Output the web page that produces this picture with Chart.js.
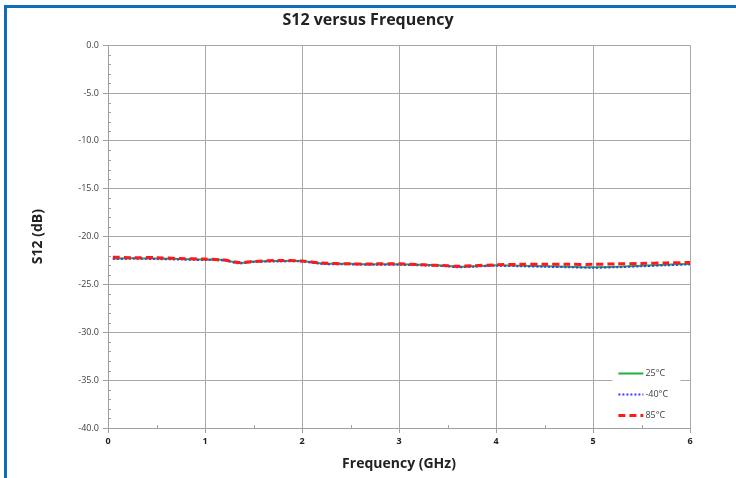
<!DOCTYPE html>
<html>
<head>
<meta charset="utf-8">
<script src="https://cdn.jsdelivr.net/npm/chart.js@4.4.1/dist/chart.umd.min.js"></script>
<style>
  body { margin: 0; background: #fff; }
  #chart { display: block; }
</style>
</head>
<body>
<canvas id="chart" width="736" height="478"></canvas>
<script>
// values
var freqs = [0.05, 0.25, 0.5, 0.75, 1.0, 1.2, 1.35, 1.5, 1.75, 2.0, 2.2, 2.5, 2.75, 3.0, 3.25, 3.5, 3.6, 3.75, 4.0, 4.25, 4.5, 4.75, 5.0, 5.25, 5.5, 5.75, 6.0];
var s12_25 = [-22.3, -22.25, -22.3, -22.35, -22.4, -22.45, -22.75, -22.6, -22.55, -22.55, -22.8, -22.85, -22.9, -22.9, -22.95, -23.05, -23.15, -23.1, -23.0, -23.05, -23.1, -23.15, -23.2, -23.15, -23.05, -22.95, -22.85];
var s12_m40 = [-22.35, -22.3, -22.35, -22.4, -22.45, -22.5, -22.8, -22.65, -22.6, -22.6, -22.85, -22.9, -22.95, -22.95, -23.0, -23.1, -23.2, -23.15, -23.05, -23.1, -23.15, -23.2, -23.25, -23.2, -23.1, -23.0, -22.9];
var s12_85 = [-22.15, -22.2, -22.2, -22.3, -22.35, -22.45, -22.7, -22.6, -22.5, -22.55, -22.75, -22.85, -22.85, -22.85, -22.95, -23.05, -23.1, -23.05, -22.95, -22.9, -22.9, -22.9, -22.9, -22.85, -22.8, -22.75, -22.7];
var seriesNames = ['25°C', '-40°C', '85°C'];

function pts(ys) {
  return freqs.map(function (f, i) { return { x: f, y: ys[i] }; });
}

var fontFam = "'Open Sans', 'Liberation Sans', sans-serif";

// blue frame + white background
var framePlugin = {
  id: 'frame',
  beforeDraw: function (chart) {
    var ctx = chart.ctx;
    ctx.save();
    ctx.fillStyle = '#ffffff';
    ctx.fillRect(0, 0, chart.width, chart.height);
    ctx.fillStyle = '#0d6fb8';
    ctx.fillRect(4, 5, chart.width - 4, 3);
    ctx.fillRect(4, 5, 3, chart.height - 5);
    ctx.restore();
  }
};

// minor ticks inside the axes
var minorTicks = {
  id: 'minorTicks',
  afterDraw: function (chart) {
    var ctx = chart.ctx, xs = chart.scales.x, ys = chart.scales.y;
    ctx.save();
    ctx.strokeStyle = '#a0a0a0';
    ctx.lineWidth = 1;
    ctx.beginPath();
    for (var v = -39; v < 0; v++) {
      if (v % 5 === 0) continue;
      var py = Math.round(ys.getPixelForValue(v)) + 0.5;
      ctx.moveTo(xs.left, py);
      ctx.lineTo(xs.left + 3, py);
    }
    for (var f = 0.5; f < 6; f += 1) {
      var px = Math.round(xs.getPixelForValue(f)) + 0.5;
      ctx.moveTo(px, ys.bottom);
      ctx.lineTo(px, ys.bottom - 3);
    }
    ctx.stroke();
    ctx.restore();
  }
};

// legend box inside the plot, lower right
var boxLegend = {
  id: 'boxLegend',
  afterDraw: function (chart) {
    var ctx = chart.ctx, xs = chart.scales.x, ys = chart.scales.y;
    var x0 = xs.getPixelForValue(5.2), y0 = ys.getPixelForValue(-33.1);
    ctx.save();
    ctx.fillStyle = '#ffffff';
    ctx.fillRect(x0, y0, 68, 62);
    chart.data.datasets.forEach(function (ds, i) {
      var yy = Math.round(y0 + 11 + i * 21) + 0.5;
      ctx.strokeStyle = ds.borderColor;
      ctx.lineWidth = ds.borderWidth;
      ctx.setLineDash(ds.borderDash || []);
      ctx.beginPath();
      ctx.moveTo(x0 + 6, yy);
      ctx.lineTo(x0 + 31, yy);
      ctx.stroke();
      ctx.setLineDash([]);
      ctx.fillStyle = '#404040';
      ctx.font = '9px ' + fontFam;
      ctx.textBaseline = 'middle';
      ctx.fillText(ds.label, x0 + 33, yy);
    });
    ctx.restore();
  }
};

new Chart(document.getElementById('chart'), {
  type: 'line',
  data: {
    datasets: [
      { label: seriesNames[0], data: pts(s12_25), borderColor: '#1fae3f', borderWidth: 2, tension: 0.3, order: 2 },
      { label: seriesNames[1], data: pts(s12_m40), borderColor: '#3a3aff', borderWidth: 2, borderDash: [2, 2], tension: 0.3, order: 1 },
      { label: seriesNames[2], data: pts(s12_85), borderColor: '#ff1a1a', borderWidth: 3, borderDash: [7, 4], tension: 0.3, order: 0 }
    ]
  },
  options: {
    responsive: false,
    animation: false,
    devicePixelRatio: 1,
    layout: { padding: 0 },
    elements: { point: { radius: 0 } },
    plugins: {
      legend: { display: false },
      tooltip: { enabled: false },
      title: {
        display: true,
        text: 'S12 versus Frequency',
        color: '#222',
        font: { family: fontFam, size: 16, weight: 'bold' },
        padding: { top: 11, bottom: 15 }
      }
    },
    scales: {
      x: {
        type: 'linear',
        min: 0,
        max: 6,
        afterFit: function (s) { s.height = 50; },
        ticks: { stepSize: 1, color: '#222', padding: 3, font: { family: fontFam, size: 9, weight: 'bold' } },
        grid: { color: '#a8a8a8', tickLength: 5, tickColor: '#a0a0a0' },
        border: { color: '#a0a0a0' },
        title: {
          display: true,
          text: 'Frequency (GHz)',
          color: '#222',
          font: { family: fontFam, size: 14, weight: 'bold' },
          padding: { top: 0, bottom: 6 }
        }
      },
      y: {
        min: -40,
        max: 0,
        afterFit: function (s) { s.width = 108; },
        ticks: {
          stepSize: 5,
          color: '#404040',
          padding: 4,
          font: { family: fontFam, size: 9 },
          callback: function (v) { return v.toFixed(1); }
        },
        grid: { color: '#a8a8a8', tickLength: 5, tickColor: '#a0a0a0' },
        border: { color: '#a0a0a0' },
        title: {
          display: true,
          text: 'S12 (dB)',
          color: '#222',
          font: { family: fontFam, size: 14, weight: 'bold' },
          padding: { top: 30, bottom: 0 }
        }
      },
      // empty right-hand spacer so the title centres on the whole picture
      yRight: {
        position: 'right',
        min: -40,
        max: 0,
        afterFit: function (s) { s.width = 46; },
        ticks: { display: false },
        grid: { display: false, drawTicks: false },
        border: { display: false }
      }
    }
  },
  plugins: [framePlugin, minorTicks, boxLegend]
});
</script>
</body>
</html>
